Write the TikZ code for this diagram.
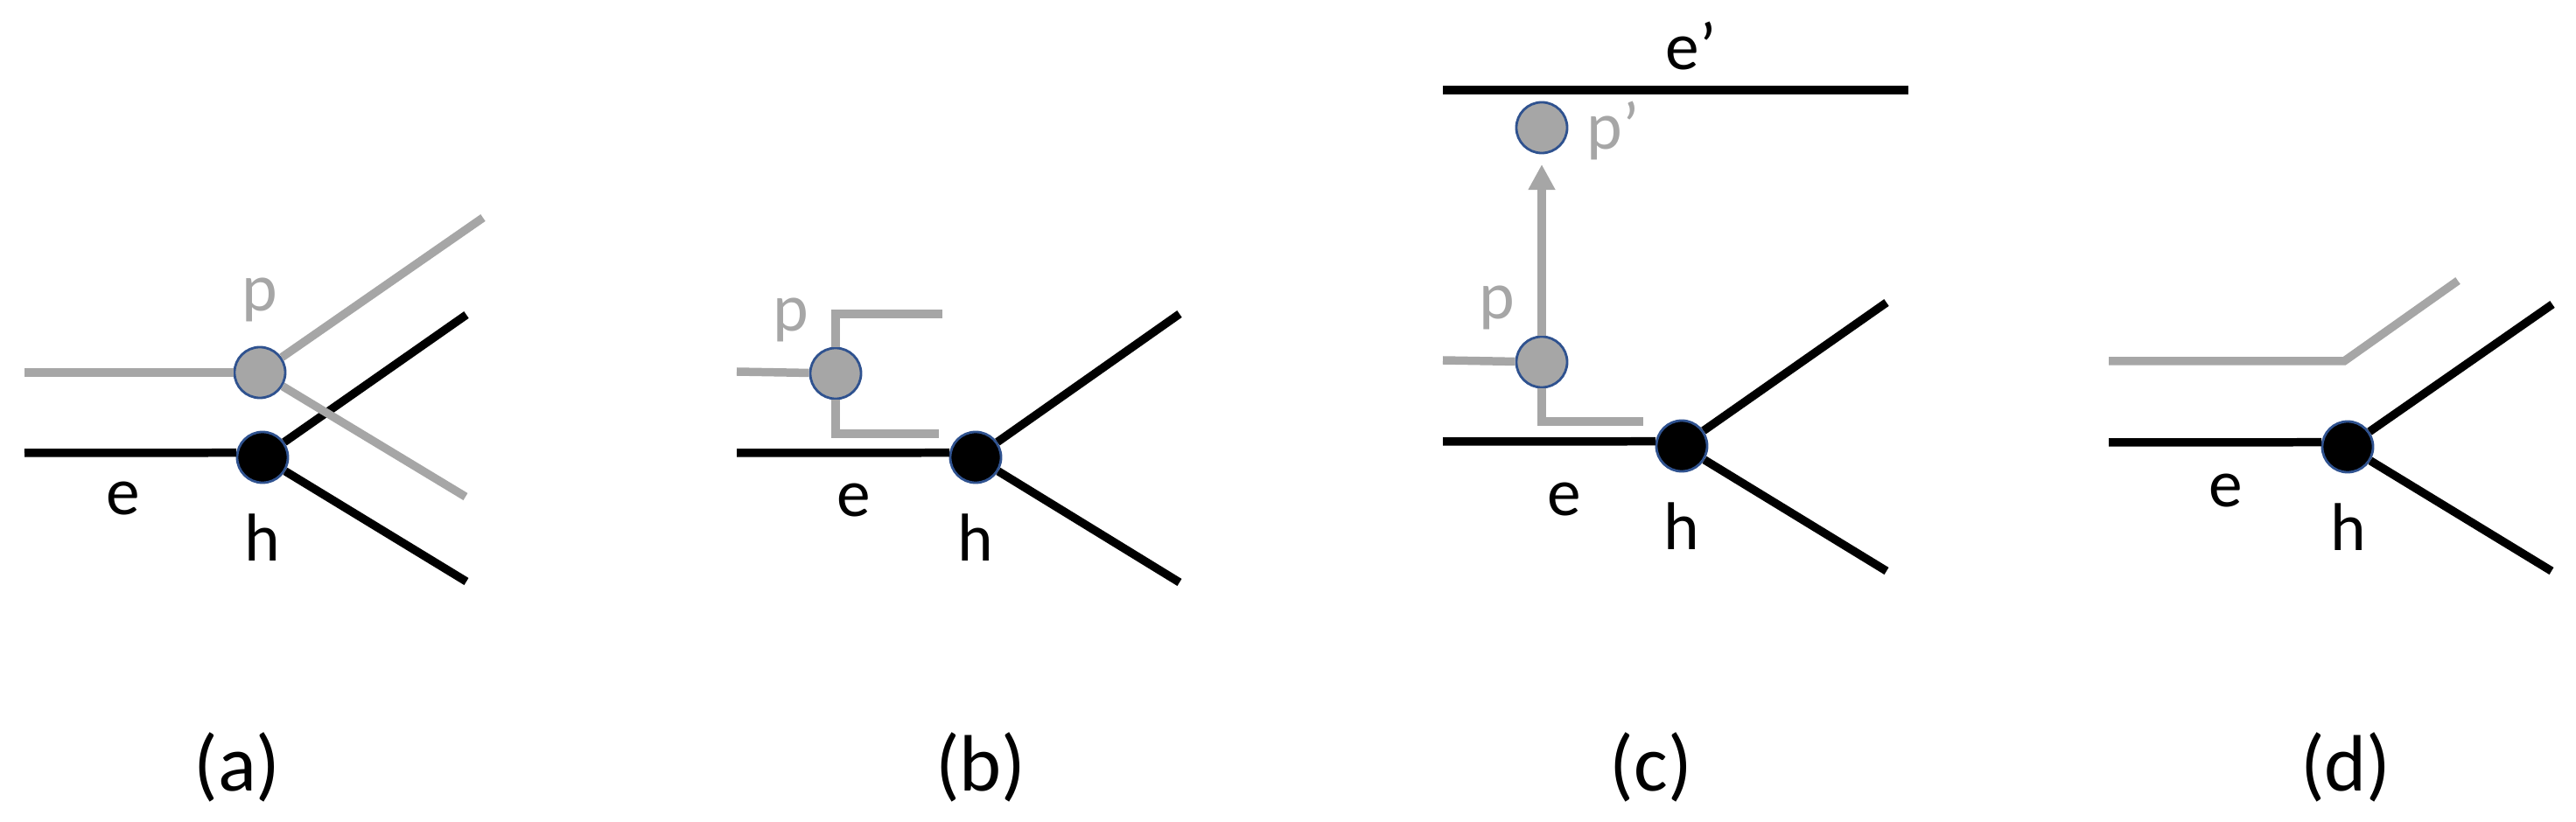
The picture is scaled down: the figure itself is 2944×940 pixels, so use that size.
\documentclass[tikz,border=0pt]{standalone}
\usepackage{fontspec}
\setmainfont{Carlito}
\usetikzlibrary{arrows.meta}
\definecolor{lgray}{HTML}{A6A6A6}
\definecolor{rim}{HTML}{2F528F}
\tikzset{
  blk/.style={line width=2.7pt, black},
  gry/.style={line width=2.7pt, lgray},
  pnode/.style={circle, minimum size=0.58cm, inner sep=0pt, draw=rim, line width=0.8pt, fill=lgray},
  hnode/.style={circle, minimum size=0.58cm, inner sep=0pt, draw=rim, line width=0.8pt, fill=black},
  lab/.style={inner sep=0pt, font=\fontsize{22}{26}\selectfont},
  glab/.style={lab, text=lgray},
  captxt/.style={inner sep=0pt, font=\fontsize{26}{30}\selectfont}
}
\begin{document}
\begin{tikzpicture}[x=0.01cm, y=-0.01cm]
\useasboundingbox (0,0) rectangle (2944,940);

% ---------- (a) ----------
\coordinate (aeL) at (28,518);
\coordinate (ahU) at (533,360);
\coordinate (ahD) at (533,665);
\coordinate (apL) at (28,426);
\coordinate (apU) at (552,249);
\coordinate (apD) at (532,568);
\node[hnode] (ah) at (300,523) {};
\draw[blk] (aeL) -- (ah.170);
\draw[blk] (ah) -- (ahU);
\draw[blk] (ah) -- (ahD);
\node[pnode] (ap) at (297,426) {};
\draw[gry] (apL) -- (ap);
\draw[gry] (ap) -- (apU);
\draw[gry] (ap) -- (apD);
\node[glab] (aplab) at (297,343) {p};
\node[lab] (aelab) at (141,570) {e};
\node[lab] (ahlab) at (300,615) {h};
\node[captxt] (acap) at (271,877) {(a)};

% ---------- (b) ----------
\coordinate (beL) at (842,518);
\coordinate (bhU) at (1348,359);
\coordinate (bhD) at (1348,666);
\coordinate (bpL) at (842,425);
\coordinate (bT1) at (955,359);
\coordinate (bT2) at (1077,359);
\coordinate (bB1) at (955,496);
\coordinate (bB2) at (1073,496);
\node[hnode] (bh) at (1115,523) {};
\draw[blk] (beL) -- (bh.170);
\draw[blk] (bh) -- (bhU);
\draw[blk] (bh) -- (bhD);
\node[pnode] (bp) at (955,427) {};
\draw[gry] (bpL) -- (bp);
\draw[gry] (bp.north) -- (bT1) -- (bT2);
\draw[gry] (bp.south) -- (bB1) -- (bB2);
\node[glab] (bplab) at (904,366) {p};
\node[lab] (belab) at (976,572) {e};
\node[lab] (bhlab) at (1115,615) {h};
\node[captxt] (bcap) at (1121,877) {(b)};

% ---------- (c) ----------
\coordinate (ceL) at (1649,505);
\coordinate (chU) at (2156,346);
\coordinate (chD) at (2156,653);
\coordinate (cpL) at (1649,412);
\coordinate (cB1) at (1762,482);
\coordinate (cB2) at (1878,482);
\coordinate (cTip) at (1762,188);
\coordinate (ceP1) at (1649,103);
\coordinate (ceP2) at (2181,103);
\draw[blk] (ceP1) -- (ceP2);
\node[hnode] (ch) at (1922,510) {};
\draw[blk] (ceL) -- (ch.170);
\draw[blk] (ch) -- (chU);
\draw[blk] (ch) -- (chD);
\node[pnode] (cp) at (1762,414) {};
\draw[gry] (cpL) -- (cp);
\draw[gry] (cp.south) -- (cB1) -- (cB2);
\draw[gry, -{Triangle[length=0.29cm, width=0.29cm]}] (cp.north) -- (cTip);
\node[pnode] (cpp) at (1762,146) {};
\node[glab, anchor=base west] (cpplab) at (1813,171) {p’};
\node[lab, anchor=base west] (ceplab) at (1903,80) {e’};
\node[glab] (cplab) at (1711,352) {p};
\node[lab] (celab) at (1788,571) {e};
\node[lab] (chlab) at (1922,602) {h};
\node[captxt] (ccap) at (1887,877) {(c)};

% ---------- (d) ----------
\coordinate (deL) at (2410,506);
\coordinate (dhU) at (2917,348);
\coordinate (dhD) at (2916,653);
\coordinate (dpL) at (2410,413);
\coordinate (dpB) at (2679,413);
\coordinate (dpU) at (2809,321);
\node[hnode] (dh) at (2683,511) {};
\draw[blk] (deL) -- (dh.170);
\draw[blk] (dh) -- (dhU);
\draw[blk] (dh) -- (dhD);
\draw[gry] (dpL) -- (dpB) -- (dpU);
\node[lab] (delab) at (2544,561) {e};
\node[lab] (dhlab) at (2684,603) {h};
\node[captxt] (dcap) at (2681,877) {(d)};
\end{tikzpicture}
\end{document}
